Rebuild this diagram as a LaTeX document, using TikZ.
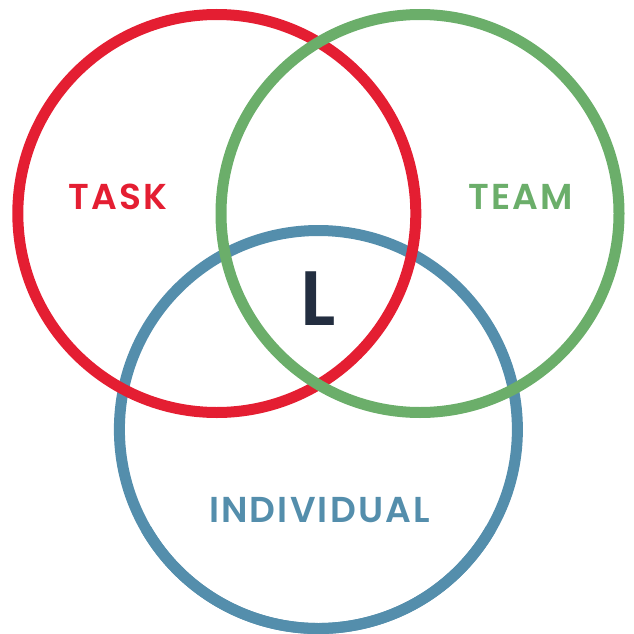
\documentclass[tikz,border=0pt]{standalone}
\usepackage{fontspec}
\setmainfont{Poppins}[LetterSpace=6,BoldFont={Poppins SemiBold}]
\definecolor{taskred}{RGB}{228,30,50}
\definecolor{teamgreen}{RGB}{107,174,106}
\definecolor{indblue}{RGB}{84,142,172}
\definecolor{leadnavy}{RGB}{35,46,64}
\begin{document}
\begin{tikzpicture}[x=1pt,y=-1pt,ring/.style={line width=11pt},
  lbl/.style={anchor=base,inner sep=0pt,font=\fontsize{36}{40}\selectfont\bfseries}]
  \useasboundingbox(0,0)rectangle(633,634);
  \draw[ring,indblue](318.4,429.5)circle(199);
  \draw[ring,taskred](216.8,213.5)circle(199);
  \draw[ring,teamgreen](420,213.5)circle(199);
  % upper part of the blue ring lies over the other two
  \draw[ring,indblue](318.4,429.5)++(30:199)arc(30:150:199);
  \node[lbl,taskred](task)at(118,209){TASK};
  \node[lbl,teamgreen](team)at(521,209){TEAM};
  \node[lbl,indblue](individual)at(319.5,522){INDIVIDUAL};
  \node[lbl,leadnavy,font=\fontsize{77}{80}\selectfont\bfseries](lead)at(318,325){L};
\end{tikzpicture}
\end{document}
